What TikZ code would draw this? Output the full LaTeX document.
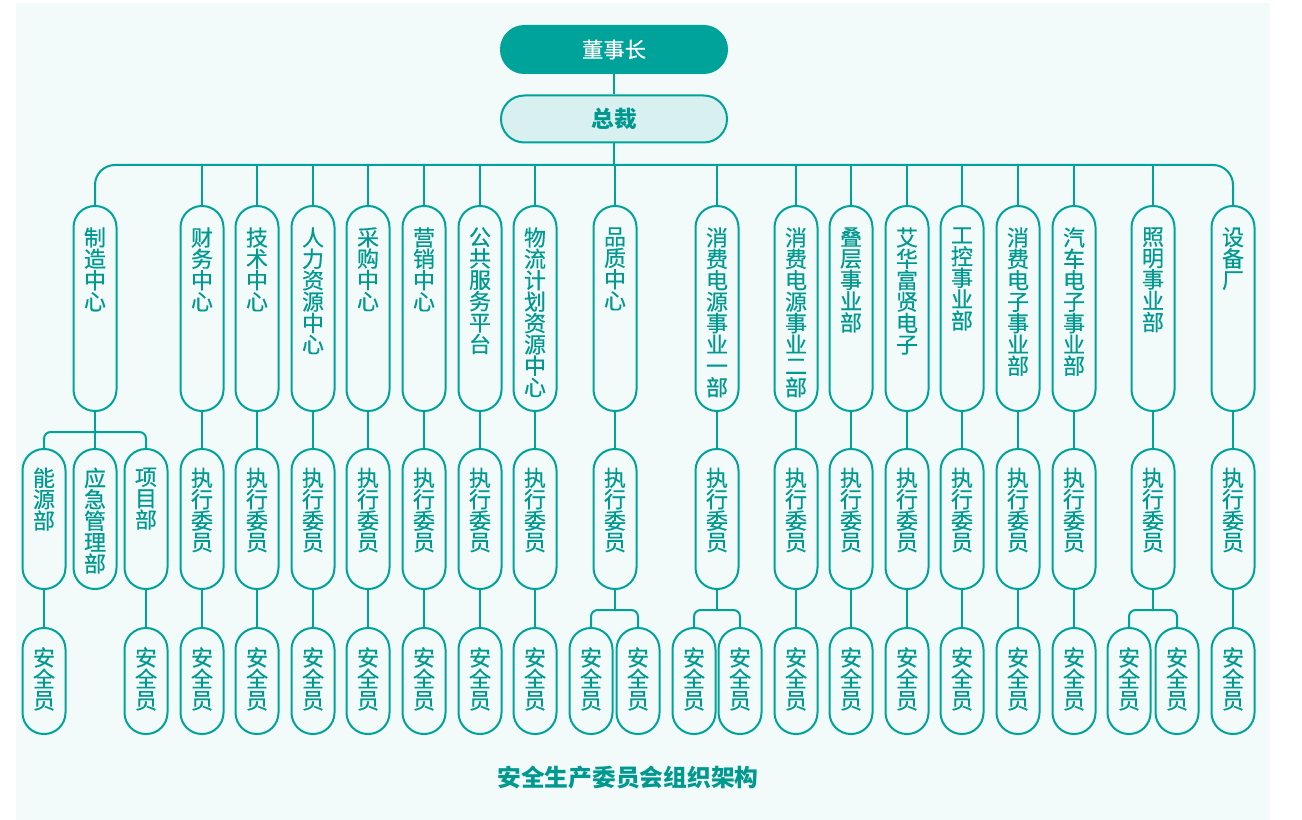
\documentclass[tikz,border=0pt]{standalone}
\usepackage{fontspec}
\setmainfont{Noto Sans CJK SC}
\newfontfamily\pillfont{Noto Sans CJK SC}[FakeBold=0.4]
\definecolor{qteal}{HTML}{00A39A}
\definecolor{qtext}{HTML}{00998F}
\definecolor{qpanel}{HTML}{F2FAFA}
\definecolor{qlight}{HTML}{D9F0F0}
\newcommand{\ltwo}[1]{\parbox[c][153.75pt][t]{32pt}{\lineskiplimit=-50pt\relax\centering\vspace*{16pt}#1}}
\newcommand{\lthree}[1]{\parbox[c][105pt][t]{32pt}{\lineskiplimit=-50pt\relax\centering\vspace*{14pt}#1}}
\newcommand{\lfour}[1]{\parbox[c][79.5pt][t]{32pt}{\lineskiplimit=-50pt\relax\centering\vspace*{14.5pt}#1}}
\tikzset{
    pill/.style = {draw=qteal, line width=1.5pt, rounded corners=16pt, inner sep=0pt,
                   minimum width=32.25pt, anchor=north, text=qtext,
                   font=\pillfont\fontsize{16.5}{16.05}\selectfont},
    headbox/.style = {draw=qteal, line width=1.5pt, minimum width=169.5pt,
                      minimum height=35.25pt, rounded corners=17.5pt, inner sep=0pt},
    conn/.style = {draw=qteal, line width=1.5pt}
}
\begin{document}
\begin{tikzpicture}[x=0.75pt, y=-0.75pt]
    \useasboundingbox (0,0) rectangle (1302,820);
    \fill[qpanel] (16,3) rectangle (1270,820);

    \node[headbox, fill=qteal, text=white, font=\pillfont\fontsize{16}{18}\selectfont] (dsz) at (614,49.5) {董事长};
    \node[headbox, fill=qlight, text=qtext, font=\fontsize{17}{19}\selectfont\bfseries] (zc) at (614,119) {总裁};

    % second level
    \node[pill] (zz) at (95,205)   {\ltwo{制\\造\\中\\心}};
    \node[pill] (cw) at (202,205)  {\ltwo{财\\务\\中\\心}};
    \node[pill] (js) at (257,205)  {\ltwo{技\\术\\中\\心}};
    \node[pill] (rl) at (313,205)  {\ltwo{人\\力\\资\\源\\中\\心}};
    \node[pill] (cg) at (368,205)  {\ltwo{采\\购\\中\\心}};
    \node[pill] (yx) at (424,205)  {\ltwo{营\\销\\中\\心}};
    \node[pill] (gg) at (480,205)  {\ltwo{公\\共\\服\\务\\平\\台}};
    \node[pill] (wl) at (535,205)  {\ltwo{物\\流\\计\\划\\资\\源\\中\\心}};
    \node[pill] (pz) at (615,205)  {\ltwo{品\\质\\中\\心}};
    \node[pill] (xa) at (717,205)  {\ltwo{消\\费\\电\\源\\事\\业\\一\\部}};
    \node[pill] (xb) at (796,205)  {\ltwo{消\\费\\电\\源\\事\\业\\二\\部}};
    \node[pill] (dc) at (851,205)  {\ltwo{叠\\层\\事\\业\\部}};
    \node[pill] (ah) at (907,205)  {\ltwo{艾\\华\\富\\贤\\电\\子}};
    \node[pill] (gk) at (962,205)  {\ltwo{工\\控\\事\\业\\部}};
    \node[pill] (xz) at (1018,205) {\ltwo{消\\费\\电\\子\\事\\业\\部}};
    \node[pill] (qc) at (1074,205) {\ltwo{汽\\车\\电\\子\\事\\业\\部}};
    \node[pill] (zm) at (1153,205) {\ltwo{照\\明\\事\\业\\部}};
    \node[pill] (sb) at (1233,205) {\ltwo{设\\备\\厂}};

    % third level
    \node[pill] (ny) at (44,448)     {\lthree{能\\源\\部}};
    \node[pill] (yj) at (95,448)     {\lthree{应\\急\\管\\理\\部}};
    \node[pill] (xm) at (146,448)    {\lthree{项\\目\\部}};
    \node[pill] (cw-z) at (202,448)  {\lthree{执\\行\\委\\员}};
    \node[pill] (js-z) at (257,448)  {\lthree{执\\行\\委\\员}};
    \node[pill] (rl-z) at (313,448)  {\lthree{执\\行\\委\\员}};
    \node[pill] (cg-z) at (368,448)  {\lthree{执\\行\\委\\员}};
    \node[pill] (yx-z) at (424,448)  {\lthree{执\\行\\委\\员}};
    \node[pill] (gg-z) at (480,448)  {\lthree{执\\行\\委\\员}};
    \node[pill] (wl-z) at (535,448)  {\lthree{执\\行\\委\\员}};
    \node[pill] (pz-z) at (615,448)  {\lthree{执\\行\\委\\员}};
    \node[pill] (xa-z) at (717,448)  {\lthree{执\\行\\委\\员}};
    \node[pill] (xb-z) at (796,448)  {\lthree{执\\行\\委\\员}};
    \node[pill] (dc-z) at (851,448)  {\lthree{执\\行\\委\\员}};
    \node[pill] (ah-z) at (907,448)  {\lthree{执\\行\\委\\员}};
    \node[pill] (gk-z) at (962,448)  {\lthree{执\\行\\委\\员}};
    \node[pill] (xz-z) at (1018,448) {\lthree{执\\行\\委\\员}};
    \node[pill] (qc-z) at (1074,448) {\lthree{执\\行\\委\\员}};
    \node[pill] (zm-z) at (1153,448) {\lthree{执\\行\\委\\员}};
    \node[pill] (sb-z) at (1233,448) {\lthree{执\\行\\委\\员}};

    % fourth level
    \node[pill] (ny-a) at (44,627)    {\lfour{安\\全\\员}};
    \node[pill] (xm-a) at (146,627)   {\lfour{安\\全\\员}};
    \node[pill] (cw-a) at (202,627)   {\lfour{安\\全\\员}};
    \node[pill] (js-a) at (257,627)   {\lfour{安\\全\\员}};
    \node[pill] (rl-a) at (313,627)   {\lfour{安\\全\\员}};
    \node[pill] (cg-a) at (368,627)   {\lfour{安\\全\\员}};
    \node[pill] (yx-a) at (424,627)   {\lfour{安\\全\\员}};
    \node[pill] (gg-a) at (480,627)   {\lfour{安\\全\\员}};
    \node[pill] (wl-a) at (535,627)   {\lfour{安\\全\\员}};
    \node[pill] (pz-a1) at (591,627)  {\lfour{安\\全\\员}};
    \node[pill] (pz-a2) at (638,627)  {\lfour{安\\全\\员}};
    \node[pill] (xa-a1) at (694,627)  {\lfour{安\\全\\员}};
    \node[pill] (xa-a2) at (740,627)  {\lfour{安\\全\\员}};
    \node[pill] (xb-a) at (796,627)   {\lfour{安\\全\\员}};
    \node[pill] (dc-a) at (851,627)   {\lfour{安\\全\\员}};
    \node[pill] (ah-a) at (907,627)   {\lfour{安\\全\\员}};
    \node[pill] (gk-a) at (962,627)   {\lfour{安\\全\\员}};
    \node[pill] (xz-a) at (1018,627)  {\lfour{安\\全\\员}};
    \node[pill] (qc-a) at (1074,627)  {\lfour{安\\全\\员}};
    \node[pill] (zm-a1) at (1129,627) {\lfour{安\\全\\员}};
    \node[pill] (zm-a2) at (1177,627) {\lfour{安\\全\\员}};
    \node[pill] (sb-a) at (1233,627)  {\lfour{安\\全\\员}};

    \node[text=qtext, font=\fontsize{17.8}{20}\selectfont\bfseries] (title) at (628,778) {安全生产委员会组织架构};

    % junctions
    \coordinate (bus) at (614,165);
    \coordinate (zz-b) at (95,432);
    \coordinate (pz-b) at (615,610);
    \coordinate (xa-b) at (717,610);
    \coordinate (zm-b) at (1153,610);

    % top
    \draw[conn] (dsz) -- (zc);
    \draw[conn] (zc.south) -- (bus);
    \draw[conn, rounded corners=15pt] (zz.north) |- (bus) -| (sb.north);
    \draw[conn] (cw.north) -- (cw.north |- bus);
    \draw[conn] (js.north) -- (js.north |- bus);
    \draw[conn] (rl.north) -- (rl.north |- bus);
    \draw[conn] (cg.north) -- (cg.north |- bus);
    \draw[conn] (yx.north) -- (yx.north |- bus);
    \draw[conn] (gg.north) -- (gg.north |- bus);
    \draw[conn] (wl.north) -- (wl.north |- bus);
    \draw[conn] (pz.north) -- (pz.north |- bus);
    \draw[conn] (xa.north) -- (xa.north |- bus);
    \draw[conn] (xb.north) -- (xb.north |- bus);
    \draw[conn] (dc.north) -- (dc.north |- bus);
    \draw[conn] (ah.north) -- (ah.north |- bus);
    \draw[conn] (gk.north) -- (gk.north |- bus);
    \draw[conn] (xz.north) -- (xz.north |- bus);
    \draw[conn] (qc.north) -- (qc.north |- bus);
    \draw[conn] (zm.north) -- (zm.north |- bus);

    % second to third
    \draw[conn] (zz.south) -- (yj.north);
    \draw[conn, rounded corners=5pt] (ny.north) |- (zz-b) -| (xm.north);
    \draw[conn] (cw) -- (cw-z);
    \draw[conn] (js) -- (js-z);
    \draw[conn] (rl) -- (rl-z);
    \draw[conn] (cg) -- (cg-z);
    \draw[conn] (yx) -- (yx-z);
    \draw[conn] (gg) -- (gg-z);
    \draw[conn] (wl) -- (wl-z);
    \draw[conn] (pz) -- (pz-z);
    \draw[conn] (xa) -- (xa-z);
    \draw[conn] (xb) -- (xb-z);
    \draw[conn] (dc) -- (dc-z);
    \draw[conn] (ah) -- (ah-z);
    \draw[conn] (gk) -- (gk-z);
    \draw[conn] (xz) -- (xz-z);
    \draw[conn] (qc) -- (qc-z);
    \draw[conn] (zm) -- (zm-z);
    \draw[conn] (sb) -- (sb-z);

    % third to fourth
    \draw[conn] (ny) -- (ny-a);
    \draw[conn] (xm) -- (xm-a);
    \draw[conn] (cw-z) -- (cw-a);
    \draw[conn] (js-z) -- (js-a);
    \draw[conn] (rl-z) -- (rl-a);
    \draw[conn] (cg-z) -- (cg-a);
    \draw[conn] (yx-z) -- (yx-a);
    \draw[conn] (gg-z) -- (gg-a);
    \draw[conn] (wl-z) -- (wl-a);
    \draw[conn] (pz-z.south) -- (pz-b);
    \draw[conn, rounded corners=5pt] (pz-a1.north) |- (pz-b) -| (pz-a2.north);
    \draw[conn] (xa-z.south) -- (xa-b);
    \draw[conn, rounded corners=5pt] (xa-a1.north) |- (xa-b) -| (xa-a2.north);
    \draw[conn] (xb-z) -- (xb-a);
    \draw[conn] (dc-z) -- (dc-a);
    \draw[conn] (ah-z) -- (ah-a);
    \draw[conn] (gk-z) -- (gk-a);
    \draw[conn] (xz-z) -- (xz-a);
    \draw[conn] (qc-z) -- (qc-a);
    \draw[conn] (zm-z.south) -- (zm-b);
    \draw[conn, rounded corners=5pt] (zm-a1.north) |- (zm-b) -| (zm-a2.north);
    \draw[conn] (sb-z) -- (sb-a);
\end{tikzpicture}
\end{document}
